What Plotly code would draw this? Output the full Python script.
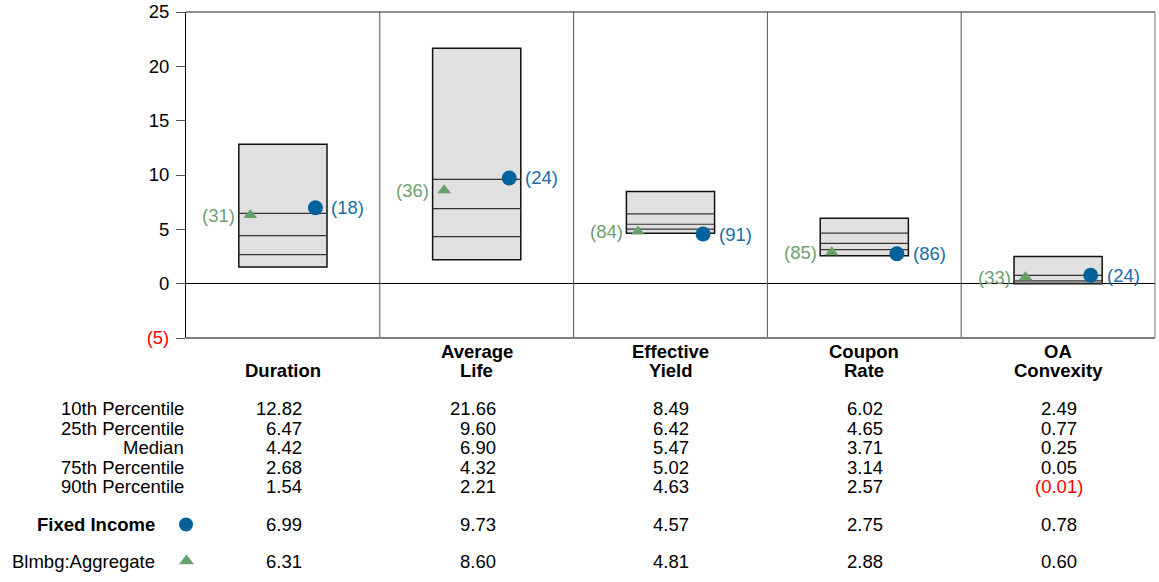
import plotly.graph_objects as go

# ---------------- data ----------------
categories = ["Duration", "Average Life", "Effective Yield", "Coupon Rate", "OA Convexity"]
p10 = [12.82, 21.66, 8.49, 6.02, 2.49]
p25 = [6.47, 9.60, 6.42, 4.65, 0.77]
median = [4.42, 6.90, 5.47, 3.71, 0.25]
p75 = [2.68, 4.32, 5.02, 3.14, 0.05]
p90 = [1.54, 2.21, 4.63, 2.57, -0.01]
fund_values = [6.99, 9.73, 4.57, 2.75, 0.78]
index_values = [6.31, 8.60, 4.81, 2.88, 0.60]
fund_ranks = [18, 24, 91, 86, 24]
index_ranks = [31, 36, 84, 85, 33]
row_labels = ["10th Percentile", "25th Percentile", "Median", "75th Percentile", "90th Percentile"]
fund_name = "Fixed Income"
index_name = "Blmbg:Aggregate"
y_ticks = [-5, 0, 5, 10, 15, 20, 25]

# ---------------- layout constants ----------------
W, H = 1159, 582
PL, PR, PT, PB = 186, 1155, 12, 338
FONT = "Liberation Sans, Arial, sans-serif"
BLUE = "#03619c"
GREEN = "#68a06a"
BLUE_TXT = "#1a6da6"
GREEN_TXT = "#6f9f6f"
FS = 18.5

n = len(categories)
centers = [i + 0.5 for i in range(n)]
box_w = 0.455
mk_off = 0.168
num_off = 0.108


def fmt(v):
    return f"({abs(v):.2f})" if v < 0 else f"{v:.2f}"


def fmt_tick(v):
    return f"<span style='color:red'>({abs(v)})</span>" if v < 0 else str(v)


def py(px):
    return 1 - px / H


fig = go.Figure()

# boxes (10th..90th percentile)
fig.add_trace(go.Bar(
    x=centers, y=[a - b for a, b in zip(p10, p90)], base=p90, width=box_w,
    marker=dict(color="#e0e0e0", line=dict(color="#111111", width=1.5)),
    hoverinfo="skip", showlegend=False))

# inner percentile lines
xs, ys = [], []
for i, c in enumerate(centers):
    for arr in (p25, median, p75):
        xs += [c - box_w / 2, c + box_w / 2, None]
        ys += [arr[i], arr[i], None]
fig.add_trace(go.Scatter(x=xs, y=ys, mode="lines", line=dict(color="#333333", width=1.2),
                         hoverinfo="skip", showlegend=False))

# markers
fig.add_trace(go.Scatter(x=[c - mk_off for c in centers], y=index_values, mode="markers",
                         marker=dict(symbol="triangle-up", size=12, color=GREEN, opacity=1),
                         name=index_name, showlegend=False))
fig.add_trace(go.Scatter(x=[c + mk_off for c in centers], y=fund_values, mode="markers",
                         marker=dict(symbol="circle", size=15, color=BLUE, opacity=1),
                         name=fund_name, showlegend=False))

# legend keys in table (pixel overlay axes)
fig.add_trace(go.Scatter(x=[186], y=[524.5], mode="markers",
                         marker=dict(symbol="circle", size=14, color=BLUE, opacity=1),
                         xaxis="x2", yaxis="y2", hoverinfo="skip", showlegend=False))
fig.add_trace(go.Scatter(x=[186.5], y=[561], mode="markers",
                         marker=dict(symbol="triangle-up", size=13, color=GREEN, opacity=1),
                         xaxis="x2", yaxis="y2", hoverinfo="skip", showlegend=False))

ann = []
# rank labels
for i, c in enumerate(centers):
    ann.append(dict(x=c - mk_off, y=index_values[i], xref="x", yref="y", text=f"({index_ranks[i]})",
                    xanchor="right", yanchor="middle", xshift=-13, showarrow=False,
                    font=dict(size=FS, color=GREEN_TXT, family=FONT)))
    ann.append(dict(x=c + mk_off, y=fund_values[i], xref="x", yref="y", text=f"({fund_ranks[i]})",
                    xanchor="left", yanchor="middle", xshift=14, showarrow=False,
                    font=dict(size=FS, color=BLUE_TXT, family=FONT)))

# category labels
for i, c in enumerate(centers):
    parts = categories[i].split(" ")
    lines_y = [370.5] if len(parts) == 1 else [351, 370.5]
    for t, yy in zip(parts, lines_y):
        ann.append(dict(x=c, y=py(yy), xref="x", yref="paper", text=f"<b>{t}</b>", showarrow=False,
                        xanchor="center", yanchor="middle", font=dict(size=FS, color="black", family=FONT)))

# table rows
row_y = [408.5, 428, 447.5, 467, 486.5]
for r, arr in enumerate((p10, p25, median, p75, p90)):
    ann.append(dict(x=PL / W, y=py(row_y[r]), xref="paper", yref="paper", text=row_labels[r],
                    xanchor="right", yanchor="middle", showarrow=False,
                    font=dict(size=FS, color="black", family=FONT)))
    for i, c in enumerate(centers):
        v = arr[i]
        ann.append(dict(x=c + num_off, y=py(row_y[r]), xref="x", yref="paper", text=fmt(v),
                        xanchor="right", yanchor="middle", showarrow=False, xshift=6 if v < 0 else 0,
                        font=dict(size=FS, color="red" if v < 0 else "black", family=FONT)))

for name, vals, yy, bold in ((fund_name, fund_values, 524.5, True), (index_name, index_values, 561, False)):
    ann.append(dict(x=157 / W, y=py(yy), xref="paper", yref="paper", text=f"<b>{name}</b>" if bold else name,
                    xanchor="right", yanchor="middle", showarrow=False,
                    font=dict(size=FS, color="black", family=FONT)))
    for i, c in enumerate(centers):
        v = vals[i]
        ann.append(dict(x=c + num_off, y=py(yy), xref="x", yref="paper", text=fmt(v),
                        xanchor="right", yanchor="middle", showarrow=False, xshift=6 if v < 0 else 0,
                        font=dict(size=FS, color="red" if v < 0 else "black", family=FONT)))

shapes = []
for k in range(1, n):
    shapes.append(dict(type="line", xref="x", yref="y domain", x0=k, x1=k, y0=0, y1=1,
                       line=dict(color="#555555", width=1)))
shapes.append(dict(type="line", xref="x domain", yref="y domain", x0=0, x1=1, y0=1, y1=1,
                   line=dict(color="#222222", width=1)))
shapes.append(dict(type="line", xref="x domain", yref="y domain", x0=0, x1=1, y0=0, y1=0,
                   line=dict(color="#808080", width=2)))
shapes.append(dict(type="line", xref="x domain", yref="y domain", x0=1, x1=1, y0=0, y1=1,
                   line=dict(color="#777777", width=1)))

fig.update_layout(
    template="none",
    width=W, height=H, margin=dict(l=0, r=0, t=0, b=0, pad=0), autosize=False,
    paper_bgcolor="white", plot_bgcolor="rgba(0,0,0,0)",
    font=dict(family=FONT, size=FS, color="black"),
    showlegend=False, bargap=0, hovermode=False,
    xaxis=dict(domain=[PL / W, PR / W], range=[0, n], showticklabels=False, showgrid=False,
               zeroline=False, showline=False, ticks="", fixedrange=True, automargin=False),
    yaxis=dict(domain=[1 - PB / H, 1 - PT / H], range=[-5, 25], tickvals=y_ticks,
               ticktext=[fmt_tick(v) for v in y_ticks], ticks="outside", ticklen=9, tickcolor="#555555",
               tickwidth=1, tickfont=dict(size=FS, color="black", family=FONT), ticklabelstandoff=3,
               showgrid=False, zeroline=True, zerolinecolor="black", zerolinewidth=1,
               showline=True, linecolor="black", linewidth=1, fixedrange=True, automargin=False),
    xaxis2=dict(domain=[0, 1], range=[0, W], visible=False, anchor="y2", fixedrange=True, automargin=False),
    yaxis2=dict(domain=[0, 1], range=[H, 0], visible=False, anchor="x2", fixedrange=True, automargin=False),
    annotations=ann, shapes=shapes,
)

fig.write_html("out.html", config={"displayModeBar": False, "staticPlot": True},
               post_script="document.body.style.margin='0px';")
